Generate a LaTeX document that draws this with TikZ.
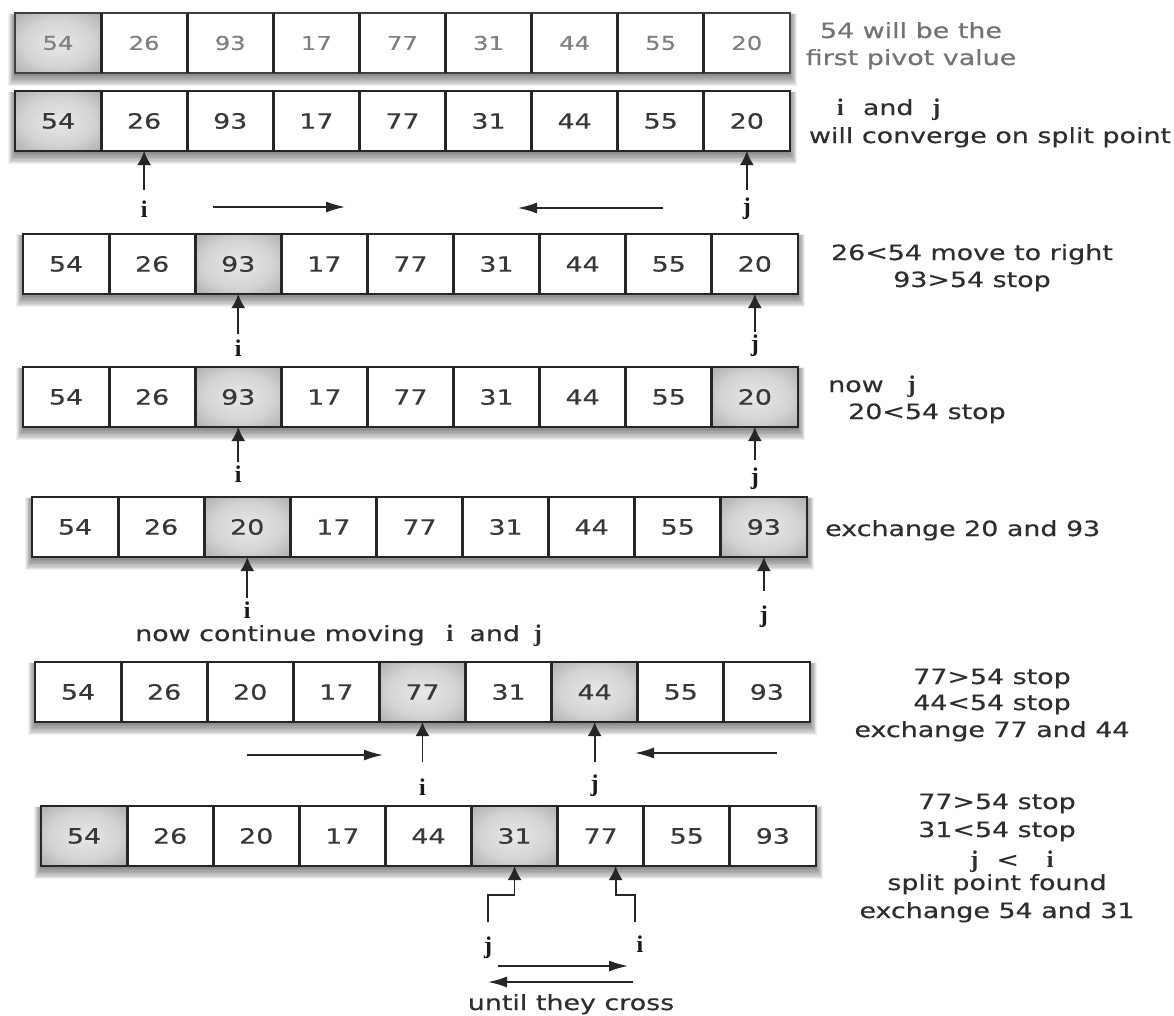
\documentclass[tikz,border=0pt]{standalone}
\usepackage{fontspec}
\setmainfont{DejaVu Sans}[FakeStretch=1.28,FakeBold=0.4]
\newfontfamily\ijfam{Liberation Serif}
\usetikzlibrary{arrows.meta,calc}
\pgfdeclareradialshading{cellsh}{\pgfpoint{0bp}{0bp}}{color(0bp)=(black!9); color(20bp)=(black!17); color(50bp)=(black!45)}
\newcommand{\ijl}[1]{{\ijfam\bfseries\fontsize{24}{24}\selectfont #1}}
\tikzset{
  cellbase/.style={draw=black!85, line width=1.4pt, minimum width=86.1pt, minimum height=60pt,
    inner sep=0pt, outer sep=0pt, font=\fontsize{21}{21}\selectfont, text=black!78},
  shcell/.style={shading=cellsh},
  faded/.style={text=black!50, font=\fontsize{19}{19}\selectfont, draw=black!75},
  sepline/.style={line width=3pt, draw=black!85},
  txt/.style={font=\fontsize{21}{27}\selectfont, text=black!82, inner sep=0pt},
  lab/.style={inner sep=0pt, text=black!90},
  ptr/.style={-{Latex[length=14pt,width=14pt]}, line width=1.8pt, draw=black!85},
  harr/.style={-{Latex[length=19pt,width=11pt]}, line width=1.6pt, draw=black!85},
}
\newcommand{\qsrow}[5]{%
  \foreach \dd in {0,...,8}{\fill[black,opacity=0.06] ({#2-\dd*0.9},{#3+2-\dd*0.2}) rectangle ({#2+775+\dd*0.9},{#3+63+\dd*1.3});}
  \foreach \val/\sh [count=\kk] in {#4}{%
    \ifnum\sh=1\relax
      \node[cellbase,shcell,#5] (r#1c\kk) at ({#2+86.1*(\kk-0.5)},{#3+30}) {\val};
    \else
      \node[cellbase,fill=white,#5] (r#1c\kk) at ({#2+86.1*(\kk-0.5)},{#3+30}) {\val};
    \fi}
  \foreach \kk in {1,...,8}{\draw[sepline] (r#1c\kk.north east) -- (r#1c\kk.south east);}
}
\begin{document}
\begin{tikzpicture}[x=1pt,y=-1pt]
\fill[white] (0,0) rectangle (1174,1015);
\useasboundingbox (0,0) rectangle (1174,1015);

% rows
\qsrow{1}{15}{13}{54/1,26/0,93/0,17/0,77/0,31/0,44/0,55/0,20/0}{faded}
\qsrow{2}{15}{91}{54/1,26/0,93/0,17/0,77/0,31/0,44/0,55/0,20/0}{}
\qsrow{3}{23}{234}{54/0,26/0,93/1,17/0,77/0,31/0,44/0,55/0,20/0}{}
\qsrow{4}{23}{367}{54/0,26/0,93/1,17/0,77/0,31/0,44/0,55/0,20/1}{}
\qsrow{5}{32}{497}{54/0,26/0,20/1,17/0,77/0,31/0,44/0,55/0,93/1}{}
\qsrow{6}{35}{662}{54/0,26/0,20/0,17/0,77/1,31/0,44/1,55/0,93/0}{}
\qsrow{7}{41}{806}{54/1,26/0,20/0,17/0,44/0,31/1,77/0,55/0,93/0}{}

% row 2 pointers
\draw[ptr] ([yshift=-39pt]r2c2.south) -- (r2c2.south);
\draw[ptr] ([yshift=-39pt]r2c9.south) -- (r2c9.south);
\node[lab,anchor=base] (l2i) at ($(r2c2.south)+(0,66)$) {\ijl{i}};
\node[lab,anchor=base] (l2j) at ($(r2c9.south)+(0,63)$) {\ijl{j}};
\coordinate (h2ra) at (213,207); \coordinate (h2rb) at (345,207);
\coordinate (h2la) at (663,208); \coordinate (h2lb) at (518,208);
\draw[harr] (h2ra) -- (h2rb);
\draw[harr] (h2la) -- (h2lb);

% row 3 pointers
\draw[ptr] ([yshift=-40pt]r3c3.south) -- (r3c3.south);
\draw[ptr] ([yshift=-38pt]r3c9.south) -- (r3c9.south);
\node[lab,anchor=base] (l3i) at ($(r3c3.south)+(0,62)$) {\ijl{i}};
\node[lab,anchor=base] (l3j) at ($(r3c9.south)+(0,57)$) {\ijl{j}};

% row 4 pointers
\draw[ptr] ([yshift=-35pt]r4c3.south) -- (r4c3.south);
\draw[ptr] ([yshift=-33pt]r4c9.south) -- (r4c9.south);
\node[lab,anchor=base] (l4i) at ($(r4c3.south)+(0,55)$) {\ijl{i}};
\node[lab,anchor=base] (l4j) at ($(r4c9.south)+(0,57)$) {\ijl{j}};

% row 5 pointers
\draw[ptr] ([yshift=-41pt]r5c3.south) -- (r5c3.south);
\draw[ptr] ([yshift=-34pt]r5c9.south) -- (r5c9.south);
\node[lab,anchor=base] (l5i) at ($(r5c3.south)+(0,61)$) {\ijl{i}};
\node[lab,anchor=base] (l5j) at ($(r5c9.south)+(0,65)$) {\ijl{j}};

% row 6 pointers
\draw[ptr] ([yshift=-40pt]r6c5.south) -- (r6c5.south);
\draw[ptr] ([yshift=-40pt]r6c7.south) -- (r6c7.south);
\node[lab,anchor=base] (l6i) at ($(r6c5.south)+(0,73)$) {\ijl{i}};
\node[lab,anchor=base] (l6j) at ($(r6c7.south)+(0,69)$) {\ijl{j}};
\coordinate (h6ra) at (247,755); \coordinate (h6rb) at (383,755);
\coordinate (h6la) at (777,753); \coordinate (h6lb) at (635,753);
\draw[harr] (h6ra) -- (h6rb);
\draw[harr] (h6la) -- (h6lb);

% row 7 pointers
\coordinate (j7s) at (488,922);
\coordinate (i7s) at (635,922);
\draw[ptr] (j7s) -- ++(0,-27) -| (r7c6.south);
\draw[ptr] (i7s) -- ++(0,-27) -| ([xshift=15pt]r7c7.south);
\node[lab,anchor=base] (l7j) at (488,953) {\ijl{j}};
\node[lab,anchor=base] (l7i) at (640,952) {\ijl{i}};
\coordinate (h7ra) at (498,966); \coordinate (h7rb) at (628,966);
\coordinate (h7la) at (633,982); \coordinate (h7lb) at (488,982);
\draw[harr] (h7ra) -- (h7rb);
\draw[harr] (h7la) -- (h7lb);
\node[txt,anchor=base] (t7u) at (571,1010) {until they cross};

% explanatory texts
\node[txt,text=black!55,anchor=base] (t1a) at (911,38) {54 will be the};
\node[txt,text=black!55,anchor=base] (t1b) at (911,65) {first pivot value};
\node[txt,anchor=base west] (t2a) at (837,115) {\ijl{i}\hspace{19pt}and\hspace{19pt}\ijl{j}};
\node[txt,anchor=base] (t2b) at (990,143) {will converge on split point};
\node[txt,anchor=base] (t3a) at (972,260) {26<54 move to right};
\node[txt,anchor=base] (t3b) at (972,287) {93>54 stop};
\node[txt,anchor=base west] (t4a) at (828,392) {now\hspace{24pt}\ijl{j}};
\node[txt,anchor=base west] (t4b) at (848,419) {20<54 stop};
\node[txt,anchor=base west] (t5a) at (825,536) {exchange 20 and 93};
\node[txt,anchor=base west] (t5b) at (135,641) {now continue moving\hspace{22pt}\ijl{i}\hspace{16pt}and\hspace{14pt}\ijl{j}};
\node[txt,anchor=base] (t6a) at (992,684) {77>54 stop};
\node[txt,anchor=base] (t6b) at (992,710) {44<54 stop};
\node[txt,anchor=base] (t6c) at (992,737) {exchange 77 and 44};
\node[txt,anchor=base] (t7a) at (997,809) {77>54 stop};
\node[txt,anchor=base] (t7b) at (997,837) {31<54 stop};
\node[txt,anchor=base] (t7c) at (1012,867) {\ijl{j}\hspace{18pt}<\hspace{28pt}\ijl{i}};
\node[txt,anchor=base] (t7d) at (997,890) {split point found};
\node[txt,anchor=base] (t7e) at (997,918) {exchange 54 and 31};
\end{tikzpicture}
\end{document}
